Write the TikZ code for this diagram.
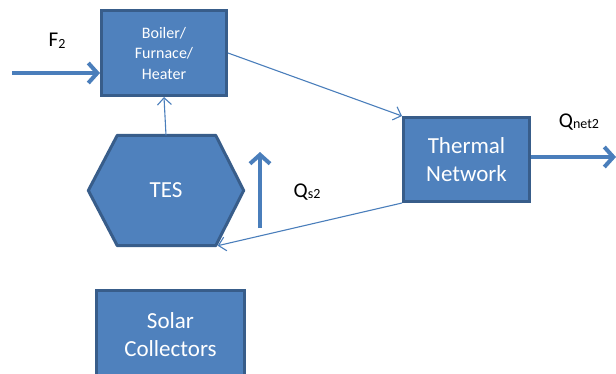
\documentclass[tikz,border=0pt]{standalone}
\usepackage{fontspec}
\setmainfont{Carlito}
\usetikzlibrary{arrows.meta,calc}
\definecolor{boxfill}{HTML}{4F81BD}
\definecolor{boxedge}{HTML}{385D8A}
\definecolor{linecol}{HTML}{4A7EBB}
\newcommand{\lowsub}[1]{\raisebox{-1.5pt}{\fontsize{14}{15}\selectfont #1}}
\begin{document}
\begin{tikzpicture}[x=1pt,y=-1pt,
  blockbox/.style={draw=boxedge,fill=boxfill,line width=3pt,text=white,align=center,inner sep=0pt},
  thinarrow/.style={draw=linecol,line width=1.1pt,-{Straight Barb[length=7pt,width=14pt,line width=1.1pt]}},
  thickarrow/.style={draw=linecol,line width=4pt,-{Straight Barb[length=9pt,width=20pt,line width=4pt]}},
  lbl/.style={font=\fontsize{21}{23}\selectfont,text=black,inner sep=0pt}]
\useasboundingbox (0,0) rectangle (616,373);
\clip (0,0) rectangle (616,373);
% Boiler
\node[blockbox,minimum width=125pt,minimum height=85pt,font=\fontsize{16}{20.5}\selectfont] (boiler) at (164,53) {Boiler/\\Furnace/\\Heater};
% Thermal network
\node[blockbox,minimum width=126pt,minimum height=84pt,font=\fontsize{23}{28}\selectfont] (thermal) at (466.5,159.5) {Thermal\\Network};
% TES hexagon
\node[minimum width=155pt,minimum height=110pt,inner sep=0pt] (tes) at (166,190.5) {};
\draw[draw=boxedge,fill=boxfill,line width=3pt,line join=round]
  (tes.west) -- ($(tes.north west)+(29,0)$) -- ($(tes.north east)+(-28,0)$) -- (tes.east)
  -- ($(tes.south east)+(-28,0)$) -- ($(tes.south west)+(29,0)$) -- cycle;
\node[text=white,font=\fontsize{23}{28}\selectfont] (teslabel) at (tes.center) {TES};
% Solar collectors
\node[blockbox,minimum width=148pt,minimum height=88pt,font=\fontsize{23}{28}\selectfont] (solar) at (170.5,334.5) {Solar\\Collectors};
% Connectors
\coordinate (fin) at (12,73);
\draw[thickarrow] (fin) -- (fin -| boiler.west);
\draw[thinarrow] (boiler.east) -- (thermal.north west);
\draw[thinarrow] (tes.north) -- (boiler.south);
\coordinate (tesbr) at ($(tes.south east)+(-26,0)$);
\draw[thinarrow] (thermal.south west) -- (tesbr);
\coordinate (qsa) at (260,228);
\coordinate (qsb) at (260,152);
\draw[thickarrow] (qsa) -- (qsb);
\coordinate (qout) at (616,157);
\draw[thickarrow] (thermal.east |- qout) -- (qout);
% Labels
\node[lbl] (f2) at (57,41) {F\lowsub{2}};
\node[lbl] (qs2) at (307,192) {Q\lowsub{s2}};
\node[lbl] (qnet) at (579,122) {Q\lowsub{net2}};
\end{tikzpicture}
\end{document}
